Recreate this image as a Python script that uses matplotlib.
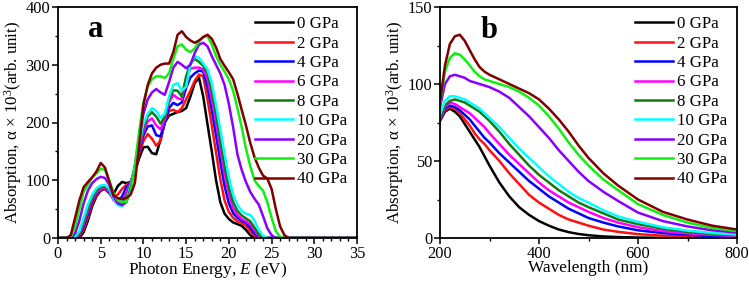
import matplotlib
matplotlib.use("Agg")
import matplotlib.pyplot as plt
from matplotlib.ticker import MultipleLocator

plt.rcParams['font.family'] = ['Liberation Serif', 'DejaVu Serif']
plt.rcParams['mathtext.fontset'] = 'custom'
plt.rcParams['mathtext.rm'] = 'Liberation Serif'
plt.rcParams['mathtext.it'] = 'Liberation Serif:italic'
plt.rcParams['mathtext.bf'] = 'Liberation Serif:bold'

labels = ['0 GPa', '2 GPa', '4 GPa', '6 GPa', '8 GPa', '10 GPa', '20 GPa', '30 GPa', '40 GPa']
colors = ['#000000', '#ff1010', '#0000ff', '#ff00ff', '#117a11', '#00ffff', '#8a00ff', '#11ee11', '#800000']

# ---------- panel a : absorption vs photon energy (eV) ----------
energy = [0, 0.5, 1, 1.5, 2, 2.5, 3, 3.5, 4, 4.5, 5, 5.5, 6, 6.5, 7, 7.5, 8, 8.5, 9, 9.5,
          10, 10.5, 11, 11.5, 12, 12.5, 13, 13.5, 14, 14.5, 15, 15.5, 16, 16.5, 17, 17.5,
          18, 18.5, 19, 19.5, 20, 20.5, 21, 21.5, 22, 22.5, 23, 23.5, 24, 24.5, 25, 25.5,
          26, 26.5, 27, 27.5, 28, 35]

abs_e_0 = [0, 0, 0, 0, 0, 0, 10, 30, 55, 72, 82, 85, 78, 76, 90, 97, 95, 97, 115, 138,
           157, 158, 147, 145, 170, 200, 212, 215, 218, 220, 225, 245, 268, 278, 245, 197,
           150, 100, 62, 42, 33, 27, 24, 21, 14, 5, 0, 0, 0, 0, 0, 0,
           0, 0, 0, 0, 0, 0]
abs_e_2 = [0, 0, 0, 0, 0, 2, 15, 36, 60, 74, 83, 85, 78, 72, 75, 85, 92, 96, 115, 145,
           168, 180, 172, 160, 168, 200, 220, 222, 218, 225, 240, 255, 272, 283, 280, 240,
           195, 148, 102, 65, 45, 35, 29, 26, 21, 12, 4, 0, 0, 0, 0, 0,
           0, 0, 0, 0, 0, 0]
abs_e_4 = [0, 0, 0, 0, 0, 4, 20, 42, 64, 77, 84, 86, 78, 68, 63, 72, 88, 96, 118, 150,
           178, 193, 195, 178, 176, 200, 225, 234, 230, 235, 260, 278, 285, 290, 288, 262,
           222, 178, 132, 90, 60, 43, 35, 30, 26, 18, 8, 2, 0, 0, 0, 0,
           0, 0, 0, 0, 0, 0]
abs_e_6 = [0, 0, 0, 0, 0, 6, 24, 47, 67, 79, 85, 87, 80, 66, 58, 63, 80, 95, 120, 155,
           185, 202, 207, 195, 188, 205, 235, 248, 242, 240, 275, 293, 295, 295, 292, 275,
           240, 200, 155, 110, 75, 52, 40, 33, 29, 24, 13, 4, 0, 0, 0, 0,
           0, 0, 0, 0, 0, 0]
abs_e_8 = [0, 0, 0, 0, 0, 8, 28, 52, 70, 82, 88, 89, 82, 68, 60, 60, 72, 93, 122, 160,
           192, 210, 218, 210, 198, 210, 240, 256, 255, 245, 280, 302, 310, 305, 298, 285,
           255, 215, 170, 125, 88, 62, 47, 39, 34, 29, 18, 7, 1, 0, 0, 0,
           0, 0, 0, 0, 0, 0]
abs_e_10 = [0, 0, 0, 0, 2, 12, 35, 58, 75, 86, 91, 92, 85, 68, 57, 55, 65, 90, 125, 165,
            198, 215, 225, 220, 208, 215, 245, 265, 268, 255, 262, 300, 315, 312, 302, 292,
            268, 230, 188, 145, 105, 75, 57, 47, 42, 40, 30, 14, 4, 0, 0, 0,
            0, 0, 0, 0, 0, 0]
abs_e_20 = [0, 0, 0, 0, 8, 30, 60, 82, 95, 102, 106, 104, 92, 72, 60, 57, 62, 85, 125, 175,
            215, 240, 252, 258, 252, 248, 270, 295, 305, 300, 294, 300, 320, 335, 338, 332,
            315, 300, 285, 265, 232, 192, 145, 118, 97, 80, 68, 58, 38, 17, 5, 0,
            0, 0, 0, 0, 0, 0]
abs_e_30 = [0, 0, 0, 2, 20, 50, 80, 92, 105, 112, 120, 118, 100, 78, 65, 62, 63, 80, 125, 185,
            235, 262, 275, 280, 280, 277, 285, 310, 332, 335, 326, 322, 328, 340, 348, 350,
            335, 315, 300, 288, 275, 255, 225, 192, 155, 125, 100, 90, 82, 62, 35, 12,
            2, 0, 0, 0, 0, 0]
abs_e_40 = [0, 0, 0, 5, 35, 65, 88, 97, 105, 115, 130, 122, 98, 74, 69, 68, 69, 75, 95, 160,
            230, 265, 285, 295, 300, 302, 302, 322, 352, 358, 348, 342, 338, 342, 348, 352,
            345, 330, 310, 298, 287, 275, 250, 222, 195, 165, 140, 122, 108, 103, 85, 50,
            20, 5, 0, 0, 0, 0]

# ---------- panel b : absorption vs wavelength (nm) ----------
wavelength = [200, 210, 220, 230, 240, 250, 260, 270, 280, 290, 300, 320, 340, 360, 380,
              400, 420, 440, 460, 480, 500, 530, 560, 600, 650, 700, 750, 800]

abs_w_0 = [76, 82, 84, 82, 79, 74, 69, 64, 59, 53, 47, 36, 27, 20, 15,
           11, 8, 5.5, 3.8, 2.6, 1.8, 1.0, 0.6, 0.3, 0.1, 0.05, 0, 0]
abs_w_2 = [77, 83, 85, 84, 81, 77, 73, 68, 64, 61, 57, 50, 42, 35, 28,
           23, 19, 15, 12, 10, 8, 5.5, 4, 2.5, 1.5, 0.9, 0.5, 0.3]
abs_w_4 = [77, 84, 86, 85, 83, 80, 77, 73, 69, 65, 62, 55, 49, 43, 37,
           32, 27, 23, 19, 16, 13, 10, 7.5, 5, 3.2, 2, 1.3, 0.8]
abs_w_6 = [77, 85, 88, 87, 85, 83, 81, 78, 75, 72, 68, 61, 54, 48, 42,
           36, 31, 27, 23, 20, 17, 13, 10, 7, 4.5, 3, 2, 1.3]
abs_w_8 = [78, 86, 89, 90, 89, 88, 86, 84, 82, 79, 76, 69, 61, 54, 47,
           41, 36, 31, 27, 23, 20, 16, 12, 9, 6, 4, 2.7, 1.8]
abs_w_10 = [80, 89, 92, 92, 91, 90, 88, 86, 84, 81, 78, 72, 65, 58, 52,
            46, 40, 35, 30, 26, 23, 18, 14, 10.5, 7, 4.8, 3.3, 2.2]
abs_w_20 = [85, 100, 105, 106, 105, 104, 102, 101, 100, 99, 98, 95, 91, 85, 79,
            72, 65, 57, 50, 43, 37, 30, 24, 16.5, 11, 7.5, 5, 3.5]
abs_w_30 = [87, 108, 117, 120, 119, 116, 112, 108, 105, 103, 102, 100, 98, 95, 91,
            86, 79, 71, 62, 54, 47, 38, 31, 22, 15, 10, 6.5, 4.5]
abs_w_40 = [88, 112, 126, 131, 132, 128, 122, 116, 111, 108, 106, 103, 100, 97, 94,
            90, 84, 77, 69, 60, 52, 42, 34, 25, 17, 12, 8, 5.5]

series_e = [abs_e_0, abs_e_2, abs_e_4, abs_e_6, abs_e_8, abs_e_10, abs_e_20, abs_e_30, abs_e_40]
series_w = [abs_w_0, abs_w_2, abs_w_4, abs_w_6, abs_w_8, abs_w_10, abs_w_20, abs_w_30, abs_w_40]

fig = plt.figure(figsize=(7.49, 2.81), dpi=100)
axa = fig.add_axes([58/749, 43/281, 299/749, 231/281])
axb = fig.add_axes([440/749, 43/281, 297/749, 231/281])

ylab = 'Absorption, α × 10$^{3}$(arb. unit)'

def style(ax):
    for s in ax.spines.values():
        s.set_linewidth(1.3)
    ax.tick_params(which='major', direction='out', length=4.5, width=1.1, labelsize=11.8, pad=1.0)
    ax.tick_params(which='minor', direction='out', length=2.5, width=1.0)
    ax.tick_params(top=False, right=False)

def add_legend(ax):
    ax.legend(loc='upper right', frameon=False, fontsize=12.2, handlelength=2.25,
              handletextpad=0.25, labelspacing=0.2, borderaxespad=0.15,
              bbox_to_anchor=(1.0, 1.0))

for vals, c, lab in zip(series_e, colors, labels):
    axa.plot(energy, vals, color=c, lw=1.8, label=lab)
axa.set_xlim(0, 35)
axa.set_ylim(0, 400)
axa.xaxis.set_major_locator(MultipleLocator(5))
axa.xaxis.set_minor_locator(MultipleLocator(1))
axa.yaxis.set_major_locator(MultipleLocator(100))
axa.yaxis.set_minor_locator(MultipleLocator(50))
axa.set_xlabel('Photon Energy, $\\it{E}$ (eV)', fontsize=12.4, labelpad=-1)
axa.set_ylabel(ylab, fontsize=12.2, labelpad=1)
style(axa)
axa.text(0.10, 0.87, 'a', transform=axa.transAxes, fontsize=22, fontweight='bold')
add_legend(axa)

for vals, c, lab in zip(series_w, colors, labels):
    axb.plot(wavelength, vals, color=c, lw=1.8, label=lab)
axb.set_xlim(200, 800)
axb.set_ylim(0, 150)
axb.xaxis.set_major_locator(MultipleLocator(200))
axb.xaxis.set_minor_locator(MultipleLocator(100))
axb.yaxis.set_major_locator(MultipleLocator(50))
axb.yaxis.set_minor_locator(MultipleLocator(25))
axb.set_xlabel('Wavelength (nm)', fontsize=12.4, labelpad=-1)
axb.set_ylabel(ylab, fontsize=12.2, labelpad=1)
style(axb)
axb.text(0.135, 0.865, 'b', transform=axb.transAxes, fontsize=22, fontweight='bold')
add_legend(axb)

fig.savefig('out.png', dpi=100)
